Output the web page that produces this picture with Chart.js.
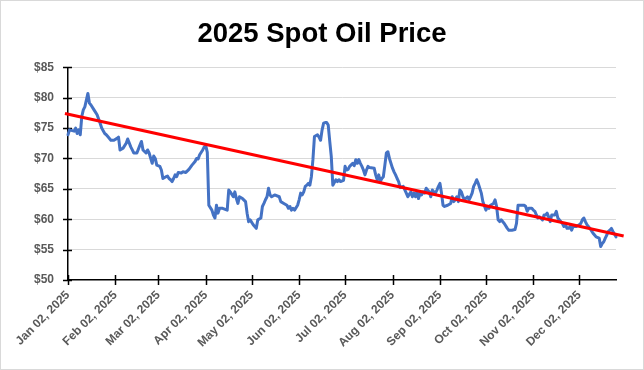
<!DOCTYPE html>
<html><head><meta charset="utf-8">
<script src="https://cdn.jsdelivr.net/npm/chart.js@4.4.1/dist/chart.umd.min.js"></script>
<style>
html,body{margin:0;padding:0;background:#fff;}
#wrap{width:642px;height:368px;border:1px solid #d9d9d9;position:relative;background:#fff;}
canvas{display:block;}
</style></head><body>
<div id="wrap"><canvas id="c" width="642" height="368"></canvas></div>
<script>
const YEAR = 2025;
const dates = [
"01-02","01-03","01-06","01-07","01-08","01-09","01-10","01-11","01-12","01-13","01-14","01-15","01-16","01-17","01-19","01-21","01-23","01-24","01-26","01-27","01-28","01-30",
"02-01","02-03","02-04","02-05","02-07","02-09","02-10","02-12","02-13","02-14","02-16","02-18","02-19","02-20","02-22","02-23","02-24","02-26","02-27","02-28",
"03-01","03-03","03-04","03-05","03-07","03-08","03-09","03-10","03-11","03-12","03-13","03-14","03-15","03-17","03-18","03-20","03-22","03-24","03-26","03-27","03-28","03-29","03-31",
"04-01","04-02","04-03","04-04","04-06","04-07","04-08","04-09","04-10","04-11","04-13","04-16","04-17","04-18","04-20","04-21","04-22","04-23","04-24","04-26","04-28","04-29","04-30",
"05-01","05-03","05-05","05-06","05-08","05-09","05-10","05-11","05-12","05-13","05-14","05-15","05-17","05-20","05-21","05-23","05-25","05-26","05-27","05-28","05-29","05-30",
"06-01","06-02","06-03","06-04","06-05","06-06","06-07","06-08","06-09","06-10","06-11","06-12","06-14","06-15","06-16","06-17","06-18","06-19","06-20","06-21","06-22","06-23","06-24","06-26","06-27","06-28","06-29",
"07-01","07-02","07-03","07-04","07-05","07-07","07-08","07-09","07-10","07-11","07-12","07-13","07-14","07-15","07-16","07-17","07-18","07-21","07-22","07-23","07-24","07-25","07-26","07-27","07-28","07-29","07-30","07-31",
"08-02","08-03","08-04","08-05","08-06","08-07","08-09","08-11","08-12","08-14","08-15","08-16","08-17","08-18","08-19","08-20","08-21","08-22","08-23","08-24","08-26","08-27","08-28","08-29","08-30","08-31",
"09-01","09-02","09-03","09-04","09-05","09-07","09-09","09-10","09-11","09-12","09-13","09-14","09-15","09-16","09-17","09-18","09-20","09-21","09-22","09-23","09-24","09-25","09-26","09-27","09-28","09-29","09-30",
"10-02","10-03","10-04","10-05","10-07","10-08","10-09","10-10","10-11","10-12","10-14","10-16","10-17","10-19","10-21","10-22","10-23","10-24","10-27","10-28","10-29","10-30",
"11-01","11-02","11-03","11-04","11-05","11-06","11-08","11-09","11-10","11-11","11-12","11-13","11-14","11-15","11-16","11-17","11-18","11-20","11-21","11-22","11-23","11-24","11-25","11-26","11-27","11-28","11-30",
"12-02","12-03","12-04","12-05","12-06","12-07","12-09","12-11","12-12","12-13","12-15","12-16","12-17","12-18","12-19","12-20","12-21","12-22","12-23","12-24","12-26","12-27"
];
const prices = [
73.9,74.7,74.5,75.0,74.1,74.7,73.9,76.9,78.0,78.5,79.6,80.7,79.1,78.8,78.0,77.2,75.8,75.0,74.1,73.9,73.6,73.0,
73.0,73.3,73.5,71.4,71.7,72.5,73.2,71.9,71.4,70.9,70.9,72.2,72.8,71.4,70.9,71.4,70.9,69.2,70.4,70.0,
68.9,68.7,68.1,66.7,67.0,67.1,66.7,66.5,66.2,66.7,67.3,67.0,67.7,67.6,67.8,67.7,68.2,68.9,69.5,70.0,69.9,70.6,71.4,
71.9,72.1,71.0,62.3,61.5,60.7,60.2,62.3,61.0,61.8,61.8,61.5,64.8,64.5,63.7,64.5,63.4,62.6,63.7,63.4,62.9,61.0,59.6,
59.9,59.1,58.5,59.9,60.2,62.1,62.6,63.2,63.7,65.1,64.0,63.7,64.0,63.7,62.9,62.6,62.3,61.8,62.1,61.5,61.8,61.5,
62.3,63.2,64.3,64.0,64.5,65.4,65.6,65.9,65.6,67.0,69.8,73.6,73.9,73.5,73.0,74.7,75.8,75.9,75.9,75.5,72.8,70.3,65.6,66.5,66.2,66.5,66.2,
66.4,68.7,68.1,68.2,68.7,69.2,68.8,69.8,69.2,69.8,69.2,68.7,68.1,67.3,68.1,68.7,68.5,68.4,67.3,66.5,67.3,66.2,66.7,67.0,68.9,70.9,71.1,70.0,
68.4,67.8,67.3,66.7,66.2,65.2,65.4,64.3,63.7,64.5,63.7,64.3,63.7,64.5,63.4,64.3,64.0,64.5,64.3,65.1,64.5,63.7,64.8,64.5,64.3,64.8,
65.4,65.9,64.3,62.3,62.1,62.3,62.6,63.7,62.9,63.2,63.7,62.9,64.8,64.5,63.7,63.2,63.7,63.2,63.7,64.3,65.4,65.9,66.5,65.9,65.1,64.3,62.9,
61.5,62.1,61.8,62.3,62.6,63.2,62.1,59.9,59.6,59.9,59.3,58.5,58.2,58.2,58.3,59.3,62.3,62.3,62.3,62.1,61.3,61.8,
61.8,61.5,61.3,60.7,60.2,60.4,59.9,60.7,60.7,61.0,60.4,59.6,60.7,60.7,60.7,61.3,60.2,59.6,59.3,58.8,59.1,58.5,58.5,58.8,58.2,58.8,58.8,
59.1,59.3,59.9,60.2,59.6,59.1,58.5,57.7,57.4,57.1,56.9,55.5,56.0,56.3,56.9,57.4,58.0,58.2,58.5,58.0,57.1,56.6
];
const trendDates = ["2024-12-31", "2025-12-31"];
const trendValues = [77.4, 57.25];
const tickDates = ["01-02","02-02","03-02","04-02","05-02","06-02","07-02","08-02","09-02","10-02","11-02","12-02"];
const tickLabels = ["Jan 02, 2025","Feb 02, 2025","Mar 02, 2025","Apr 02, 2025","May 02, 2025","Jun 02, 2025","Jul 02, 2025","Aug 02, 2025","Sep 02, 2025","Oct 02, 2025","Nov 02, 2025","Dec 02, 2025"];
const yMin = 50, yMax = 85, yStep = 5;
const titleText = "2025 Spot Oil Price";

function dayOf(s) {
  const iso = s.length === 5 ? YEAR + "-" + s : s;
  const [yy, mm, dd] = iso.split("-").map(Number);
  return (Date.UTC(yy, mm - 1, dd) - Date.UTC(YEAR, 0, 2)) / 86400000;
}

const crossTicks = {
  id: 'crossTicks',
  beforeDatasetsDraw(chart) {
    const {ctx, scales: {x, y}} = chart;
    ctx.save();
    ctx.strokeStyle = '#000';
    ctx.lineWidth = 1.5;
    const ax = x.left, ay = y.bottom;
    ctx.beginPath();
    y.ticks.forEach(t => {
      const py = Math.round(y.getPixelForValue(t.value)) + 0.5;
      ctx.moveTo(ax - 5, py); ctx.lineTo(ax + 4, py);
    });
    x.ticks.forEach(t => {
      const px = Math.round(x.getPixelForValue(t.value)) + 0.5;
      ctx.moveTo(px, ay - 5); ctx.lineTo(px, ay + 5);
    });
    ctx.stroke();
    ctx.restore();
  }
};

const labelFont = {family: "'Liberation Sans', Arial, sans-serif", size: 12, weight: 'bold'};

new Chart(document.getElementById('c'), {
  type: 'line',
  data: {
    datasets: [
      {
        label: 'Trend',
        data: trendDates.map((d, i) => ({x: dayOf(d), y: trendValues[i]})),
        borderColor: '#FF0000',
        borderWidth: 3,
        pointRadius: 0,
        clip: false,
        tension: 0
      },
      {
        label: 'Spot Price',
        data: dates.map((d, i) => ({x: dayOf(d), y: prices[i]})),
        borderColor: '#4472C4',
        borderWidth: 3,
        pointRadius: 0,
        borderJoinStyle: 'round',
        borderCapStyle: 'round',
        clip: false,
        tension: 0
      }
    ]
  },
  options: {
    responsive: false,
    animation: false,
    devicePixelRatio: 1,
    layout: {padding: {top: 0, left: 0, right: 0, bottom: 0}},
    plugins: {
      legend: {display: false},
      tooltip: {enabled: false},
      title: {
        display: true,
        text: titleText,
        color: '#000',
        font: {family: "'Liberation Sans', Arial, sans-serif", size: 27.5, weight: 'bold', lineHeight: 1.2},
        padding: {top: 17, bottom: 16.3}
      }
    },
    scales: {
      x: {
        type: 'linear',
        min: 0,
        max: 358,
        afterBuildTicks: s => { s.ticks = tickDates.map(d => ({value: dayOf(d)})); },
        afterFit: s => { s.height = 89; },
        grid: {display: true, drawOnChartArea: false, drawTicks: false},
        border: {display: true, color: '#000', width: 1.5},
        ticks: {
          autoSkip: false, minRotation: 45, maxRotation: 45, padding: 8,
          color: '#595959', font: labelFont,
          callback: (v, i) => tickLabels[i]
        }
      },
      y: {
        min: yMin,
        max: yMax,
        afterFit: s => { s.width = 67; },
        grid: {
          color: c => (c.tick && c.tick.value === yMin) ? 'rgba(0,0,0,0)' : '#d9d9d9',
          lineWidth: 1, drawTicks: false
        },
        border: {display: true, color: '#000', width: 1.5},
        ticks: {
          stepSize: yStep, padding: 14, color: '#595959', font: labelFont,
          callback: v => '$' + v
        }
      },
      yRight: {
        position: 'right',
        min: yMin,
        max: yMax,
        afterFit: s => { s.width = 27; },
        grid: {display: false},
        border: {display: false},
        ticks: {display: false}
      }
    }
  },
  plugins: [crossTicks]
});
</script>
</body></html>
